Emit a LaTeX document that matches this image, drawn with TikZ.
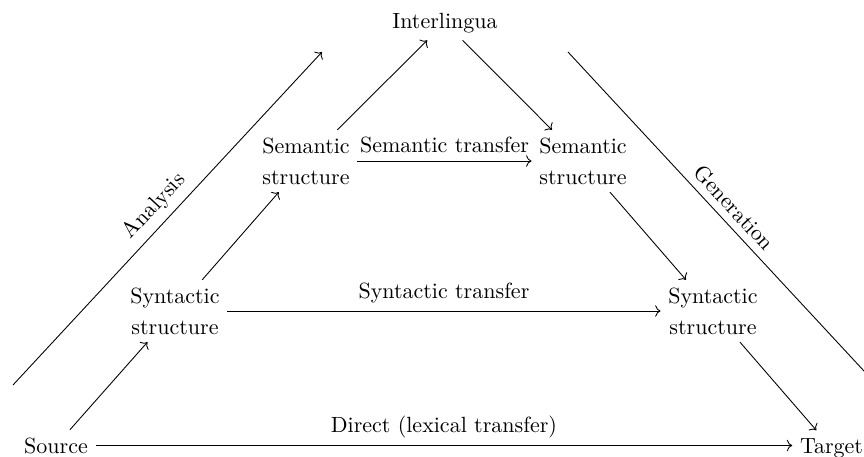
\documentclass[tikz,border=0pt]{standalone}
\usetikzlibrary{arrows.meta}
\begin{document}
\begin{tikzpicture}[x=0.4545pt,y=-0.4545pt,
  lvl/.style={align=center,font=\linespread{1.17}\selectfont},
  word/.style={anchor=base},
  conn/.style={->},
  lab/.style={midway,above}]
\useasboundingbox (0,0) rectangle (864,457);
\clip (0,0) rectangle (864,457);
% nodes
\node[word] (src) at (56,453) {Source};
\node[word] (tgt) at (831.5,453) {Target};
\node[word] (inter) at (445,28) {Interlingua};
\node[lvl] (synL) at (175,311) {Syntactic\\structure};
\node[lvl] (synR) at (713,311) {Syntactic\\structure};
\node[lvl] (semL) at (306,161) {Semantic\\structure};
\node[lvl] (semR) at (583,161) {Semantic\\structure};
% side coordinates
\coordinate (aS) at (13,385);
\coordinate (aE) at (322,52);
\coordinate (gS) at (568,52);
\coordinate (gE) at (877,385);
% connectors
\draw[conn] (src) -- (synL);
\draw[conn] (synL) -- (semL);
\draw[conn] (semL) -- (inter);
\draw[conn] (inter) -- (semR);
\draw[conn] (semR) -- (synR);
\draw[conn] (synR) -- (tgt);
\draw[conn] (synL.east) -- node[lab] {Syntactic transfer} (synR.west);
\draw[conn] (semL.east) -- node[lab] {Semantic transfer} (semR.west);
\draw[conn] (src.east) -- node[lab] {Direct (lexical transfer)} (src.east -| tgt.west);
\draw[conn] (aS) -- node[lab,sloped] {Analysis} (aE);
\draw[conn] (gS) -- node[lab,sloped] {Generation} (gE);
\end{tikzpicture}
\end{document}
